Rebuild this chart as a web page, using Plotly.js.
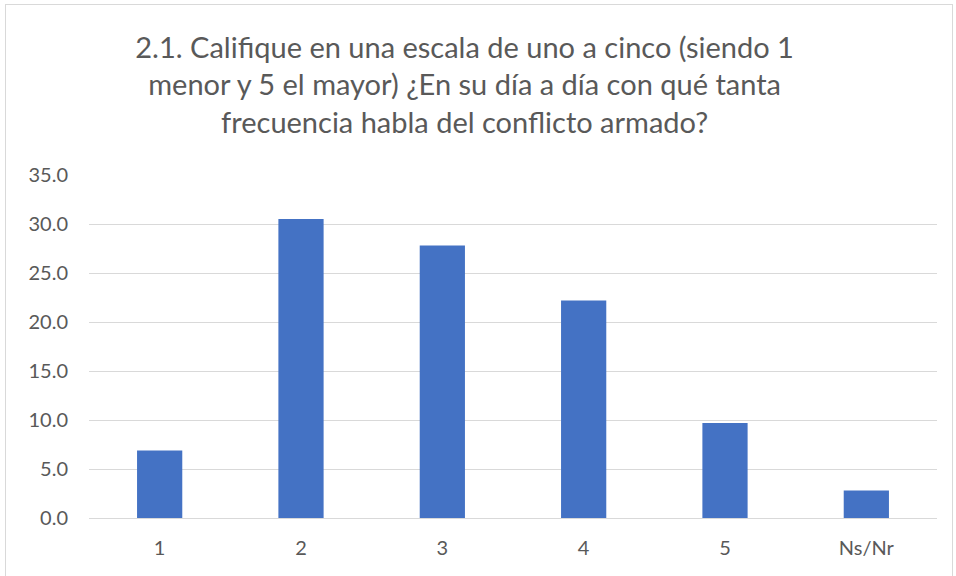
<!DOCTYPE html>
<html>
<head>
<meta charset="utf-8">
<script src="https://cdn.plot.ly/plotly-3.0.1.min.js"></script>
<style>
html,body{margin:0;padding:0;background:#fff;}
#wrap{position:relative;width:956px;height:576px;}
#chart{position:absolute;left:0;top:0;width:956px;height:576px;}
#frame{position:absolute;left:5px;top:4px;width:946px;height:580px;border:1px solid #d9d9d9;pointer-events:none;}
</style>
</head>
<body>
<div id="wrap"><div id="chart"></div><div id="frame"></div></div>
<script>
const categories = ["1", "2", "3", "4", "5", "Ns/Nr"];
const values = [6.9, 30.5, 27.8, 22.2, 9.7, 2.8];
const yTicks = [0, 5, 10, 15, 20, 25, 30, 35];
const yTickLabels = ["0.0", "5.0", "10.0", "15.0", "20.0", "25.0", "30.0", "35.0"];
const titleText = "2.1. Califique en una escala de uno a cinco (siendo 1<br>menor y 5 el mayor) ¿En su día a día con qué tanta<br>frecuencia habla del conflicto armado?";

const font = "Lato, 'Open Sans', 'Liberation Sans', sans-serif";

Plotly.newPlot("chart", [{
  type: "bar",
  x: categories,
  y: values,
  marker: {color: "#4472c4"},
  hoverinfo: "x+y"
}], {
  width: 956, height: 576,
  paper_bgcolor: "#ffffff",
  plot_bgcolor: "#ffffff",
  margin: {l: 89, r: 19, t: 175, b: 58},
  bargap: 0.68,
  showlegend: false,
  title: {
    text: titleText,
    font: {family: font, size: 29, color: "#595959"},
    x: 0.486, xref: "container", xanchor: "center",
    y: 0.90, yref: "container", yanchor: "middle"
  },
  xaxis: {
    type: "category",
    showgrid: false,
    showline: true,
    linecolor: "#d9d9d9",
    linewidth: 1,
    ticks: "",
    tickfont: {family: font, size: 20, color: "#595959"},
    ticklabelstandoff: 12
  },
  yaxis: {
    range: [0, 35],
    tickvals: yTicks,
    ticktext: yTickLabels,
    showgrid: true,
    gridcolor: "#d9d9d9",
    gridwidth: 1,
    zeroline: false,
    showline: false,
    ticks: "",
    tickfont: {family: font, size: 20, color: "#595959"},
    ticklabelstandoff: 20
  }
}, {displayModeBar: false, staticPlot: false});
</script>
</body>
</html>
